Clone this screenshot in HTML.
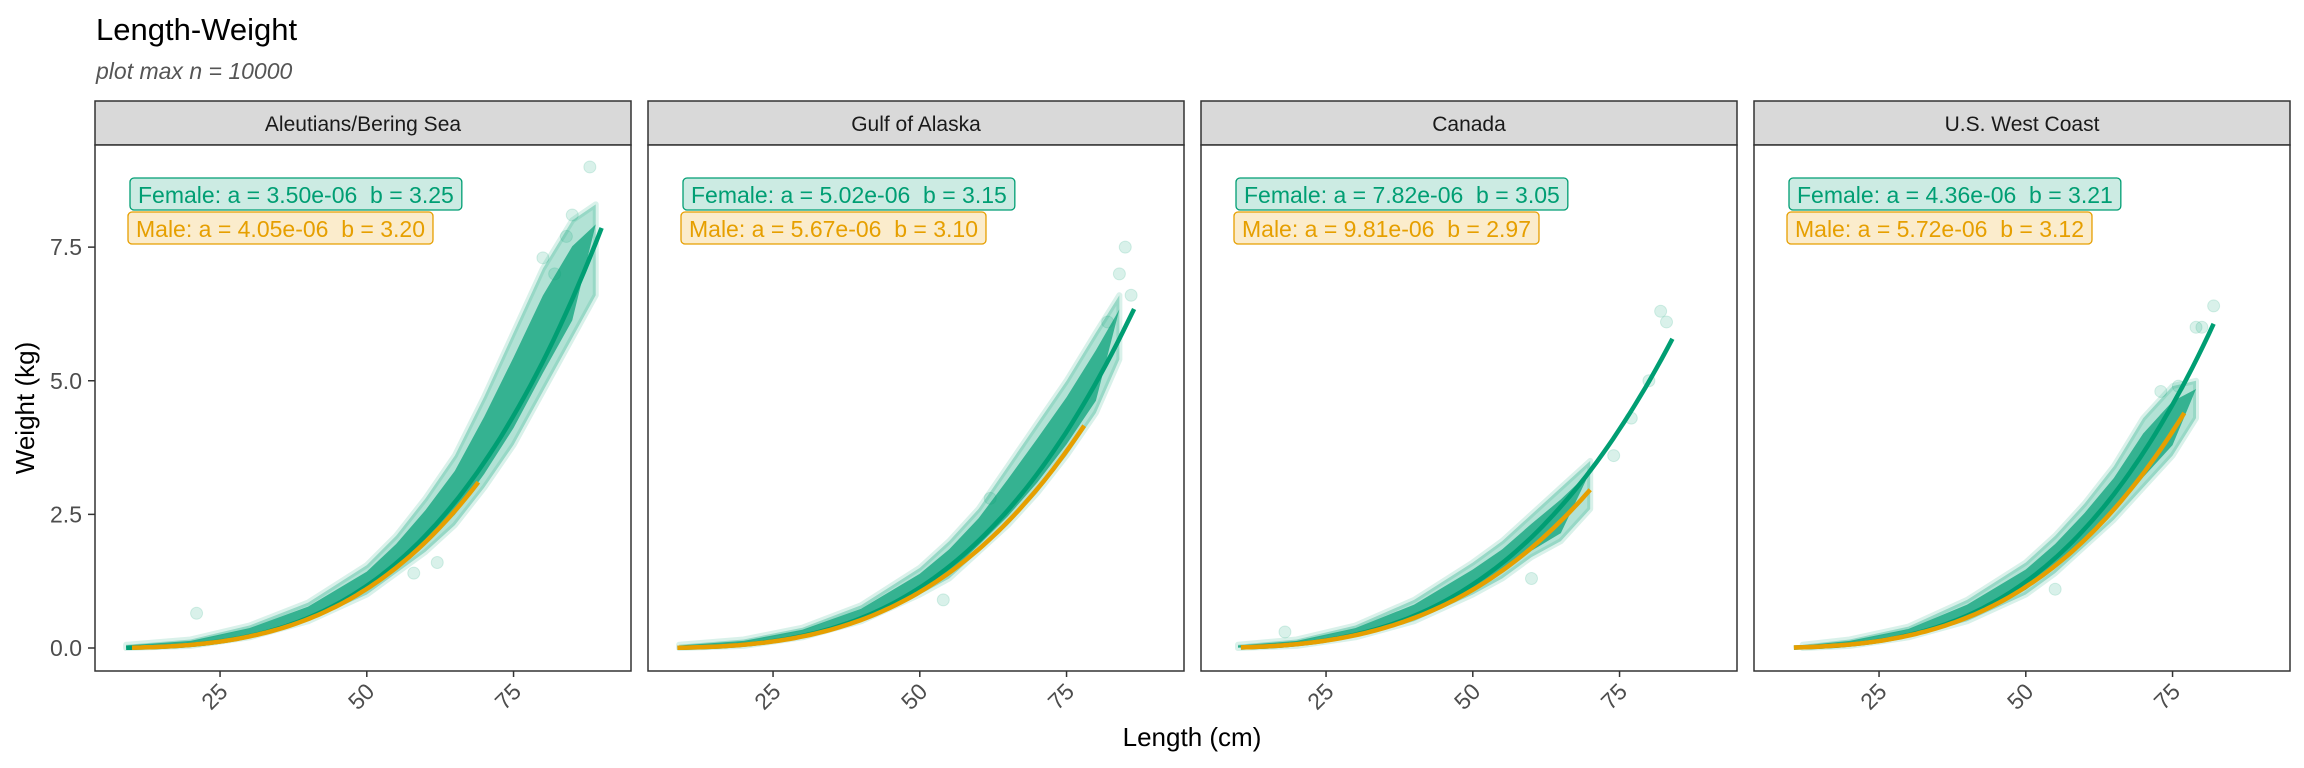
<!DOCTYPE html>
<html><head><meta charset="utf-8"><style>
html,body{margin:0;padding:0;background:#fff;}
svg{display:block;font-family:"Liberation Sans",Arial,sans-serif;}
</style></head><body>
<svg id="chart" width="2304" height="768" viewBox="0 0 2304 768" xmlns="http://www.w3.org/2000/svg">
<text x="96" y="40" font-size="31" fill="#000">Length-Weight</text>
<text x="96" y="79" font-size="23" font-style="italic" fill="#555">plot max n = 10000</text>
<text transform="translate(34,408) rotate(-90)" text-anchor="middle" font-size="26" fill="#000">Weight (kg)</text>
<text x="1192" y="746" text-anchor="middle" font-size="26" fill="#000">Length (cm)</text>
<g id="panels"></g>
</svg>
<script>
// ---- data ----
const regions = ["Aleutians/Bering Sea", "Gulf of Alaska", "Canada", "U.S. West Coast"];
const femaleA = [3.50e-6, 5.02e-6, 7.82e-6, 4.36e-6];
const femaleB = [3.25, 3.15, 3.05, 3.21];
const maleA = [4.05e-6, 5.67e-6, 9.81e-6, 5.72e-6];
const maleB = [3.20, 3.10, 2.97, 3.12];
const femaleLabels = ["Female: a = 3.50e-06\u00A0 b = 3.25", "Female: a = 5.02e-06\u00A0 b = 3.15", "Female: a = 7.82e-06\u00A0 b = 3.05", "Female: a = 4.36e-06\u00A0 b = 3.21"];
const maleLabels = ["Male: a = 4.05e-06\u00A0 b = 3.20", "Male: a = 5.67e-06\u00A0 b = 3.10", "Male: a = 9.81e-06\u00A0 b = 2.97", "Male: a = 5.72e-06\u00A0 b = 3.12"];
const femaleRange = [[9, 90], [8.7, 86.5], [10.5, 84], [10.5, 82]];
const maleRange = [[10, 69], [8.7, 78], [10.5, 70], [10.5, 77]];
// scatter envelopes (length cm, low/high weight kg)
const cloudLen = [
  [9, 20, 30, 40, 50, 55, 60, 65, 70, 75, 80, 85, 89],
  [9, 20, 30, 40, 50, 55, 60, 65, 70, 75, 80, 84],
  [10, 20, 30, 40, 50, 55, 60, 65, 70],
  [12, 20, 30, 40, 50, 55, 60, 65, 70, 75, 79]
];
const cloudLo = [
  [0, 0.04, 0.2, 0.5, 1.0, 1.4, 1.8, 2.3, 3.0, 3.8, 4.8, 5.8, 6.6],
  [0, 0.04, 0.2, 0.5, 1.0, 1.3, 1.8, 2.3, 2.9, 3.6, 4.4, 5.4],
  [0, 0.04, 0.2, 0.5, 1.0, 1.3, 1.7, 2.0, 2.6],
  [0, 0.04, 0.2, 0.5, 1.0, 1.4, 1.9, 2.4, 3.0, 3.6, 4.3]
];
const cloudHi = [
  [0.06, 0.16, 0.42, 0.85, 1.55, 2.1, 2.8, 3.6, 4.7, 5.9, 7.1, 8.0, 8.3],
  [0.06, 0.16, 0.38, 0.8, 1.5, 2.0, 2.6, 3.4, 4.2, 5.0, 5.9, 6.6],
  [0.06, 0.16, 0.42, 0.9, 1.6, 2.0, 2.5, 3.0, 3.5],
  [0.06, 0.16, 0.4, 0.9, 1.6, 2.1, 2.7, 3.4, 4.3, 4.9, 5.0]
];
const outlierL = [[88, 85, 84, 80, 82, 62, 58, 21], [85, 84, 86, 82, 54, 62], [82, 83, 80, 77, 74, 60, 18], [80, 79, 82, 76, 73, 55]];
const outlierW = [[9.0, 8.1, 7.7, 7.3, 7.0, 1.6, 1.4, 0.65], [7.5, 7.0, 6.6, 6.1, 0.9, 2.8], [6.3, 6.1, 5.0, 4.3, 3.6, 1.3, 0.3], [6.0, 6.0, 6.4, 4.9, 4.8, 1.1]];
const xTicks = [25, 50, 75];
const yTicks = [0, 2.5, 5, 7.5];
const yTickLabels = ["0.0", "2.5", "5.0", "7.5"];

// ---- layout ----
const panelLeft = [95, 648, 1201, 1754];
const panelW = 536, stripTop = 101, plotTop = 145, plotBot = 671;
const GREEN = "#009E73", ORANGE = "#E69F00";
const NS = "http://www.w3.org/2000/svg";
const root = document.getElementById("panels");
function mk(tag, attrs, parent) {
  const e = document.createElementNS(NS, tag);
  for (const k in attrs) e.setAttribute(k, attrs[k]);
  (parent || root).appendChild(e);
  return e;
}
const yScale = v => 648 - v * 53.45;

regions.forEach((reg, i) => {
  const L = panelLeft[i];
  const xScale = v => L - 21.7 + v * 5.87;
  const g = mk("g", {});
  
  
  const strip = mk("rect", {x: L, y: stripTop, width: panelW, height: plotTop - stripTop, fill: "#D9D9D9", stroke: "#333", "stroke-width": 1.5}, g);
  
  
  const st = mk("text", {x: L + panelW / 2, y: 131, "text-anchor": "middle", "font-size": 21, fill: "#1a1a1a"}, g);
  st.textContent = reg;
  
  
  mk("rect", {x: L, y: plotTop, width: panelW, height: plotBot - plotTop, fill: "#fff"}, g);

  // clouds
  let up = "", lo = "";
  cloudLen[i].forEach((len, k) => { up += (k ? "L" : "M") + xScale(len) + "," + yScale(cloudHi[i][k]); });
  for (let k = cloudLen[i].length - 1; k >= 0; k--) lo += "L" + xScale(cloudLen[i][k]) + "," + yScale(cloudLo[i][k]);
  const cloud = mk("path", {d: up + lo + "Z", fill: GREEN, "fill-opacity": 0.3, stroke: GREEN, "stroke-opacity": 0.15, "stroke-width": 6, "stroke-linejoin": "round"}, g);
  
  
  let up2 = "", lo2 = "";
  const n = cloudLen[i].length;
  cloudLen[i].forEach((len, k) => {
    const h = cloudLo[i][k] + (cloudHi[i][k] - cloudLo[i][k]) * 0.78;
    up2 += (k ? "L" : "M") + xScale(len) + "," + yScale(h);
  });
  for (let k = n - 2; k >= 0; k--) {
    const l2 = cloudLo[i][k] + (cloudHi[i][k] - cloudLo[i][k]) * 0.15;
    lo2 += "L" + xScale(cloudLen[i][k]) + "," + yScale(l2);
  }
  const core = mk("path", {d: up2 + lo2 + "Z", fill: GREEN, "fill-opacity": 0.7}, g);
  
  
  outlierL[i].forEach((len, k) => {
    const c = mk("circle", {cx: xScale(len), cy: yScale(outlierW[i][k]), r: 6, fill: GREEN, "fill-opacity": 0.15, stroke: GREEN, "stroke-opacity": 0.15}, g);
    
    
  });

  // curves
  function curve(a, b, r, col, name) {
    let d = "";
    for (let s = 0; s <= 80; s++) {
      const len = r[0] + (r[1] - r[0]) * s / 80;
      d += (s ? "L" : "M") + xScale(len).toFixed(1) + "," + yScale(a * Math.pow(len, b)).toFixed(1);
    }
    const p = mk("path", {d: d, fill: "none", stroke: col, "stroke-width": 4.5}, g);
    
    
  }
  curve(femaleA[i], femaleB[i], femaleRange[i], GREEN, "female-fit-line");
  curve(maleA[i], maleB[i], maleRange[i], ORANGE, "male-fit-line");

  const border = mk("rect", {x: L, y: plotTop, width: panelW, height: plotBot - plotTop, fill: "none", stroke: "#333", "stroke-width": 1.5}, g);
  
  

  // labels
  function label(txt, y, x, col, bg, name) {
    const t = mk("text", {x: x + 8, y: y + 25, "font-size": 23, fill: col}, g);
    t.textContent = txt;
    const w = t.getComputedTextLength() + 16;
    const r = mk("rect", {x: x, y: y, width: w, height: 32, rx: 4, fill: bg, stroke: col, "stroke-width": 1.3}, g);
    g.insertBefore(r, t);
    
    
    
    
  }
  label(femaleLabels[i], 178, L + 35, GREEN, "#CCEBE3", "female-param-label");
  label(maleLabels[i], 212, L + 33, ORANGE, "#FBECCC", "male-param-label");

  // x ticks
  xTicks.forEach(v => {
    const x = xScale(v);
    mk("line", {x1: x, x2: x, y1: plotBot, y2: plotBot + 6, stroke: "#333", "stroke-width": 1.5}, g);
    const t = mk("text", {transform: `translate(${x + 9},${plotBot + 22}) rotate(-45)`, "text-anchor": "end", "font-size": 23, fill: "#4D4D4D"}, g);
    t.textContent = v;
    
    
  });
});
// y ticks
yTicks.forEach((v, k) => {
  const y = yScale(v);
  mk("line", {x1: 88, x2: 95, y1: y, y2: y, stroke: "#333", "stroke-width": 1.5});
  const t = mk("text", {x: 82, y: y + 8, "text-anchor": "end", "font-size": 23, fill: "#4D4D4D"});
  t.textContent = yTickLabels[k];
  
  
});
</script>
</body></html>
